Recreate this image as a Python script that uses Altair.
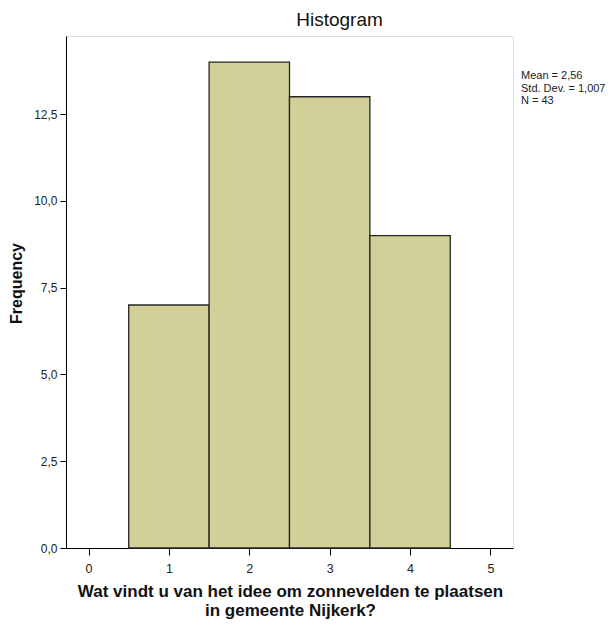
import altair as alt
import pandas as pd

# Data
categories = [1, 2, 3, 4]
counts = [7, 14, 13, 9]
x_ticks = [0, 1, 2, 3, 4, 5]
y_ticks = [0.0, 2.5, 5.0, 7.5, 10.0, 12.5]
chart_title = "Histogram"
x_title = ["Wat vindt u van het idee om zonnevelden te plaatsen", "in gemeente Nijkerk?"]
y_title = "Frequency"

n = sum(counts)
mean = sum(c * k for c, k in zip(categories, counts)) / n
var = sum(k * (c - mean) ** 2 for c, k in zip(categories, counts)) / (n - 1)
sd = var ** 0.5
stats_lines = [
    "Mean = " + f"{mean:.2f}".replace(".", ","),
    "Std. Dev. = " + f"{sd:.3f}".replace(".", ","),
    f"N = {n}",
]

df = pd.DataFrame({"value": categories, "count": counts})
df["lo"] = df["value"] - 0.5
df["hi"] = df["value"] + 0.5
df["zero"] = 0

FONT = "Liberation Sans, Arial, sans-serif"

xscale = alt.Scale(domain=[-0.28, 5.28], nice=False, zero=False)
yscale = alt.Scale(domain=[0, 14.75], nice=False)

bars = alt.Chart(df).mark_rect(
    fill="#D3CF98", stroke="#262626", strokeWidth=1.3
).encode(
    x=alt.X("lo:Q", scale=xscale, axis=alt.Axis(
        values=x_ticks, format="d", grid=False,
        domain=True, domainColor="#000000", domainWidth=1,
        tickColor="#000000", tickSize=7, tickWidth=1,
        labelFont=FONT, labelFontSize=12.5, labelColor="#222222", labelPadding=7,
        title=x_title,
        titleFont=FONT, titleFontSize=17, titleFontWeight="bold", titleColor="#111111",
        titleLineHeight=19, titleBaseline="alphabetic", titleAlign="center",
        titleX=224, titleY=48,
    )),
    x2="hi:Q",
    y=alt.Y("zero:Q", scale=yscale, axis=alt.Axis(
        values=y_ticks, grid=False,
        labelExpr="replace(format(datum.value, '.1f'), '.', ',')",
        domain=True, domainColor="#000000", domainWidth=1,
        tickColor="#000000", tickSize=6, tickWidth=1,
        labelFont=FONT, labelFontSize=12, labelColor="#222222", labelPadding=3,
        title=y_title,
        titleFont=FONT, titleFontSize=16, titleFontWeight="bold", titleColor="#111111",
        titleAngle=270, titleAlign="center", titleBaseline="alphabetic",
        titleX=-45, titleY=247,
    )),
    y2="count:Q",
)

stats_df = pd.DataFrame({"label": ["\n".join(stats_lines)]})
stats = alt.Chart(stats_df).mark_text(
    align="left", baseline="alphabetic", font=FONT, fontSize=11,
    lineBreak="\n", lineHeight=12.5, color="#222222",
).encode(
    text="label:N",
    x=alt.value(455),
    y=alt.value(43),
)

title_df = pd.DataFrame({"label": [chart_title]})
title = alt.Chart(title_df).mark_text(
    align="center", baseline="alphabetic", font=FONT, fontSize=19,
    color="#111111",
).encode(
    text="label:N",
    x=alt.value(273.5),
    y=alt.value(-10),
)

chart = alt.layer(bars, stats, title).properties(
    width=447,
    height=512,
    padding={"left": 58, "top": 28, "right": 94, "bottom": 71},
    autosize=alt.AutoSizeParams(type="none"),
).configure_view(
    fill="#F0F0F0", stroke="#666666", strokeWidth=1,
).configure(background="#FFFFFF")

chart.save("out.html", embed_options={"renderer": "svg", "actions": False})
